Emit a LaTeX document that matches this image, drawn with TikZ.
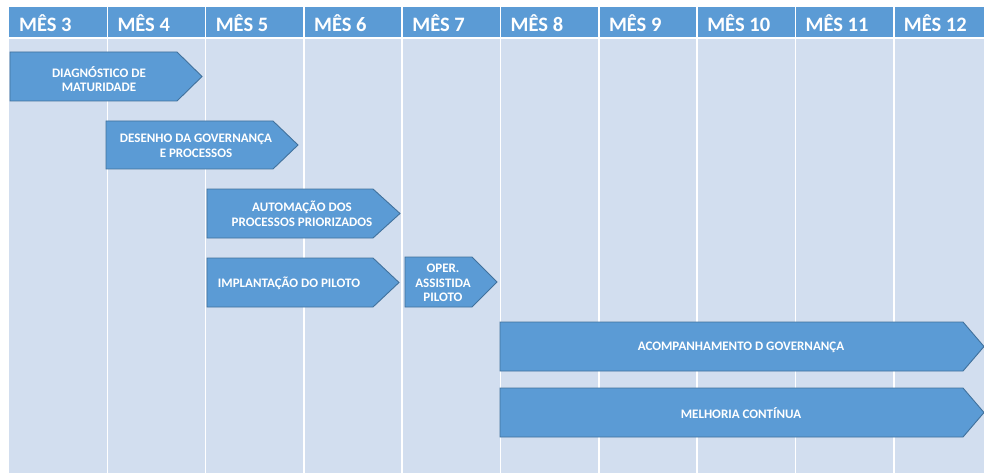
\documentclass[tikz,border=0pt]{standalone}
\usepackage{fontspec}
\setmainfont{Carlito}
\definecolor{headblue}{HTML}{5B9BD5}
\definecolor{bodyblue}{HTML}{D2DEEF}
\definecolor{edgeblue}{HTML}{41719C}
\tikzset{
  monthlabel/.style={anchor=west, text=white, font=\bfseries\fontsize{20.5}{22}\selectfont, inner sep=0pt},
  phasebox/.style={fill=headblue, draw=edgeblue, line width=0.9pt, line join=miter},
  phasetext/.style={text=white, font=\bfseries\fontsize{13}{14.5}\selectfont, align=center, inner sep=0pt},
}
% \phaseshape{left}{top}{shoulder}{tip}{bottom}
\newcommand{\phaseshape}[5]{%
  \path[phasebox] (#1,#2) -- (#3,#2) -- (#4,{(#2+#5)/2}) -- (#3,#5) -- (#1,#5) -- cycle;}
\begin{document}
\begin{tikzpicture}[x=1pt,y=-1pt]
  \useasboundingbox (0,0) rectangle (984,473);
  \fill[white] (0,0) rectangle (984,473);
  % table body and header band
  \fill[bodyblue] (9,39) rectangle (984,473);
  \fill[headblue] (9,7) rectangle (984,37);
  % column separators and month labels
  \foreach \i [evaluate=\i as \xl using 9+98.3*(\i-3)] in {3,...,12}{
    \ifnum\i>3
      \draw[white, line width=1.6pt] (\xl,7) -- (\xl,473);
    \fi
    \node[monthlabel] (m\i) at (\xl+10,23) {MÊS \i};
  }
  % phases
  \phaseshape{10}{52}{177}{202}{101}
  \node[phasetext] (diag) at (99,79) {DIAGNÓSTICO DE\\MATURIDADE};
  \phaseshape{106}{121}{273}{298}{169}
  \node[phasetext] (gov) at (196,146) {DESENHO DA GOVERNANÇA\\E PROCESSOS};
  \phaseshape{207}{189}{373}{400}{238}
  \node[phasetext] (auto) at (302,214) {AUTOMAÇÃO DOS\\PROCESSOS PRIORIZADOS};
  \phaseshape{207}{258}{373}{399}{307}
  \node[phasetext] (impl) at (289,283) {IMPLANTAÇÃO DO PILOTO};
  \phaseshape{405}{257}{472}{497}{307}
  \node[phasetext] (oper) at (443,283) {OPER.\\ASSISTIDA\\PILOTO};
  \phaseshape{500}{322}{963}{984}{371}
  \node[phasetext] (acomp) at (741,347) {ACOMPANHAMENTO D GOVERNANÇA};
  \phaseshape{500}{388}{963}{984}{437}
  \node[phasetext] (melh) at (741,413) {MELHORIA CONTÍNUA};
\end{tikzpicture}
\end{document}
